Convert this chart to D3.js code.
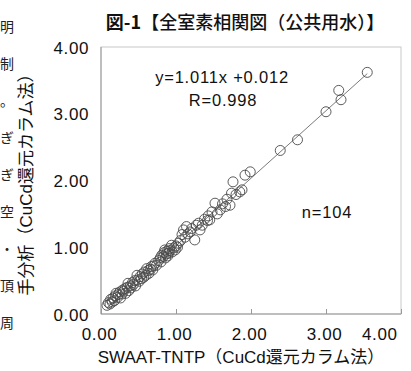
<!DOCTYPE html>
<html>
<head>
<meta charset="utf-8">
<script src="https://cdn.jsdelivr.net/npm/d3@7"></script>
<style>
  body { margin: 0; background: #fff; }
  svg { display: block; }
</style>
</head>
<body>
<script>
// measured values: SWAAT-TNTP (x) vs manual analysis (y), mg/L
const xValues = [
  0.08, 0.10, 0.12, 0.13, 0.15, 0.16, 0.18, 0.19, 0.20, 0.22,
  0.23, 0.25, 0.26, 0.28, 0.29, 0.30, 0.32, 0.33, 0.35, 0.36,
  0.37, 0.39, 0.40, 0.42, 0.43, 0.45, 0.46, 0.48, 0.49, 0.51,
  0.52, 0.54, 0.55, 0.57, 0.58, 0.60, 0.61, 0.63, 0.64, 0.66,
  0.67, 0.69, 0.70, 0.72, 0.74,
  0.77, 0.79, 0.80, 0.81, 0.83, 0.84, 0.85, 0.86, 0.87, 0.88,
  0.89, 0.90, 0.91, 0.92, 0.94, 0.95, 0.97, 0.99, 1.00, 1.02,
  1.03, 1.06, 1.08, 1.10, 1.12, 1.14, 1.16, 1.19, 1.21, 1.25,
  1.27, 1.30, 1.32, 1.35, 1.38, 1.42, 1.45, 1.48, 1.43,
  1.52, 1.55, 1.59, 1.62, 1.66, 1.68, 1.72, 1.74, 1.76, 1.80,
  1.85, 1.88, 1.92, 1.99,
  2.39, 2.62, 3.00, 3.17, 3.20, 3.55
];
const yValues = [
  0.13, 0.17, 0.15, 0.22, 0.18, 0.24, 0.20, 0.27, 0.31, 0.25,
  0.29, 0.33, 0.24, 0.30, 0.36, 0.34, 0.38, 0.31, 0.40, 0.46,
  0.35, 0.42, 0.39, 0.47, 0.44, 0.50, 0.42, 0.58, 0.51, 0.49,
  0.56, 0.53, 0.60, 0.55, 0.63, 0.58, 0.68, 0.65, 0.61, 0.67,
  0.71, 0.66, 0.72, 0.76, 0.73,
  0.80, 0.84, 0.78, 0.88, 0.86, 0.92, 0.96, 0.84, 0.90, 0.94,
  0.87, 0.91, 0.98, 0.95, 1.03, 0.93, 0.99, 0.96, 1.02, 1.00,
  1.06, 1.10, 1.19, 1.26, 1.15, 1.31, 1.20, 1.23, 1.28, 1.11,
  1.33, 1.36, 1.26, 1.33, 1.42, 1.40, 1.41, 1.53, 1.47,
  1.66, 1.50, 1.56, 1.65, 1.61, 1.72, 1.63, 1.81, 1.98, 1.79,
  1.83, 1.86, 2.08, 2.13,
  2.45, 2.61, 3.03, 3.35, 3.21, 3.62
];
const tickValues = [0, 1, 2, 3, 4];
const slope = 1.011;
const intercept = 0.012;
const titleBold = "図-1";
const titleRest = "【全室素相関図（公共用水）】";
const xTitle = "SWAAT-TNTP（CuCd還元カラム法）";
const yTitle = "手分析（CuCd還元カラム法）";
const eqText = "y=1.011x +0.012";
const rText = "R=0.998";
const nText = "n=104";
// fragments of the surrounding page text at the left edge
const edgeChars = ["明", "制", "。", "ぎ", "ぎ", "空", "・", "頂", "周"];

const width = 411;
const height = 371;
const margin = { top: 47, right: 10, bottom: 57, left: 101 };
const latin = "'Liberation Sans', Arial, 'Noto Sans CJK JP', sans-serif";
const cjk = "'Noto Sans CJK JP', sans-serif";

const svg = d3
  .select("body")
  .append("svg")
  .attr("width", width)
  .attr("height", height);

svg.append("rect").attr("width", width).attr("height", height).attr("fill", "white");

const xScale = d3.scaleLinear().domain([0, 4]).range([margin.left, width - margin.right]);
const yScale = d3.scaleLinear().domain([0, 4]).range([height - margin.bottom, margin.top]);

// plot frame
svg
  .append("rect")
  .attr("x", xScale(0))
  .attr("y", yScale(4))
  .attr("width", xScale(4) - xScale(0))
  .attr("height", yScale(0) - yScale(4))
  .attr("fill", "none")
  .attr("stroke", "#c8c8c8")
  .attr("stroke-width", 1);

// left and bottom axis lines a bit darker
svg
  .append("path")
  .attr("d", `M${xScale(0)},${yScale(4)}V${yScale(0)}H${xScale(4)}`)
  .attr("fill", "none")
  .attr("stroke", "#999")
  .attr("stroke-width", 1);

// x axis: inward ticks
const xAxis = svg
  .append("g")
  .attr("transform", `translate(0,${yScale(0)})`)
  .call(d3.axisBottom(xScale).tickValues(tickValues).tickSize(-5).tickFormat(d3.format(".2f")));
xAxis.select(".domain").remove();
xAxis.selectAll(".tick line").attr("stroke", "#999");
xAxis
  .selectAll(".tick text")
  .attr("y", 26)
  .attr("x", -2)
  .attr("dy", 0)
  .attr("fill", "#111")
  .attr("font-family", latin)
  .attr("font-size", 17)
  .attr("letter-spacing", 0.6);
// last label pulled inside the picture
xAxis
  .selectAll(".tick text")
  .filter((d) => d === 4)
  .attr("text-anchor", "end")
  .attr("x", -4);

// y axis labels only
const yAxis = svg
  .append("g")
  .attr("transform", `translate(${xScale(0)},0)`)
  .call(d3.axisLeft(yScale).tickValues(tickValues).tickSize(0).tickPadding(12).tickFormat(d3.format(".2f")));
yAxis.select(".domain").remove();
yAxis
  .selectAll(".tick text")
  .attr("dy", "0.36em")
  .attr("fill", "#111")
  .attr("font-family", latin)
  .attr("font-size", 17)
  .attr("letter-spacing", 0.6);

// regression line across the data range
const xExtent = d3.extent(xValues);
svg
  .append("line")
  .attr("x1", xScale(xExtent[0]))
  .attr("y1", yScale(slope * xExtent[0] + intercept))
  .attr("x2", xScale(xExtent[1]))
  .attr("y2", yScale(slope * xExtent[1] + intercept))
  .attr("stroke", "#7a7a7a")
  .attr("stroke-width", 1);

// points
svg
  .append("g")
  .selectAll("circle")
  .data(xValues.map((x, i) => ({ x, y: yValues[i] })))
  .enter()
  .append("circle")
  .attr("cx", (d) => xScale(d.x))
  .attr("cy", (d) => yScale(d.y))
  .attr("r", 5)
  .attr("fill", "none")
  .attr("stroke", "#4a4a4a")
  .attr("stroke-width", 0.9);

// annotations
svg
  .append("text")
  .attr("x", 222)
  .attr("y", 83)
  .attr("text-anchor", "middle")
  .attr("font-family", latin)
  .attr("font-size", 16.5)
  .attr("letter-spacing", 0.8)
  .attr("fill", "#111")
  .text(eqText);
svg
  .append("text")
  .attr("x", 223)
  .attr("y", 106)
  .attr("text-anchor", "middle")
  .attr("font-family", latin)
  .attr("font-size", 16.5)
  .attr("letter-spacing", 0.8)
  .attr("fill", "#111")
  .text(rText);
svg
  .append("text")
  .attr("x", 327)
  .attr("y", 218)
  .attr("text-anchor", "middle")
  .attr("font-family", latin)
  .attr("font-size", 16.5)
  .attr("letter-spacing", 0.8)
  .attr("fill", "#111")
  .text(nText);

// title
const title = svg
  .append("text")
  .attr("x", 245)
  .attr("y", 29)
  .attr("text-anchor", "middle")
  .attr("font-family", cjk)
  .attr("font-size", 18)
  .attr("fill", "#111");
title.append("tspan").attr("font-weight", 700).text(titleBold);
title.append("tspan").attr("font-weight", 500).text(titleRest);

// axis titles
svg
  .append("text")
  .attr("x", 241)
  .attr("y", 363)
  .attr("text-anchor", "middle")
  .attr("font-family", latin)
  .attr("font-size", 17)
  .attr("fill", "#111")
  .text(xTitle);

svg
  .append("text")
  .attr("transform", `translate(32,${(yScale(0) + yScale(4)) / 2}) rotate(-90)`)
  .attr("text-anchor", "middle")
  .attr("font-family", latin)
  .attr("font-size", 17)
  .attr("fill", "#111")
  .text(yTitle);

// page text fragments along the left edge
svg
  .append("g")
  .selectAll("text")
  .data(edgeChars)
  .enter()
  .append("text")
  .attr("x", 0)
  .attr("y", (d, i) => 32 + i * 37)
  .attr("font-family", cjk)
  .attr("font-size", 14)
  .attr("fill", "#222")
  .text((d) => d);
</script>
</body>
</html>
